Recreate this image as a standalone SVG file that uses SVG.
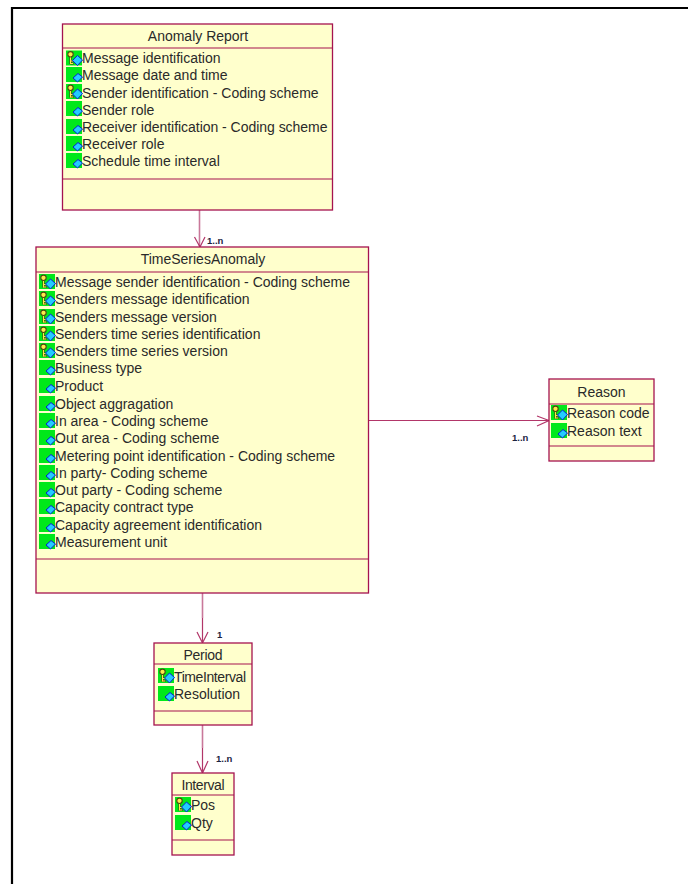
<svg xmlns="http://www.w3.org/2000/svg" width="688" height="884" viewBox="0 0 688 884">
<style>
.box{fill:#ffffcc;stroke:#a5134f;stroke-width:1.3}
.sep{stroke:#a5134f;stroke-width:1.2;fill:none}
.t{font-family:"Liberation Sans",Arial,sans-serif;font-size:14px;fill:#2a2a2a}
.c{text-anchor:middle}
.m{font-family:"Liberation Sans",Arial,sans-serif;font-size:9.500px;font-weight:bold;fill:#1a2340}
.lnk{stroke:#a5134f;stroke-width:1.200;fill:none;opacity:.85}
.pale{stroke:#c9789a;stroke-width:1.600;fill:none}
</style>
<defs>
<g id="attr">
<rect x="0" y="0" width="16" height="15" fill="#00e81a"/>
<path d="M7 11 L12 6.500 L16.500 10 L11.500 15 Z" fill="#22ccff" stroke="#0a1fd0" stroke-width="1"/>
</g>
<g id="key">
<rect x="0" y="0" width="16" height="15" fill="#00e81a"/>
<path d="M4.500 6 L4.500 13.500 M4.500 10.500 H7.500 M4.500 13 H7.500" stroke="#4a4a10" stroke-width="2.200" fill="none"/>
<path d="M4.500 6 L4.500 13.500 M4.500 10.500 H7 M4.500 13 H7" stroke="#ffe94a" stroke-width="1" fill="none"/>
<circle cx="4.500" cy="3.800" r="2.700" fill="#ffe94a" stroke="#4a4a10" stroke-width="1.100"/>
<path d="M6.500 10 L11.500 5 L16.500 9.500 L11.500 15 Z" fill="#22ccff" stroke="#0a1fd0" stroke-width="1"/>
</g>
</defs>
<path d="M12 884 V8 H688" fill="none" stroke="#000" stroke-width="2.200"/>
<g id="connectors">
<path class="pale" d="M199.500 210 V246"/>
<path class="lnk" d="M194.500 237 L200 247 L205 237"/>
<text class="m" x="207" y="244">1..n</text>
<path class="lnk" d="M369 420.500 H549 M537 416 L549 420.500 L537 426"/>
<text class="m" x="512" y="441">1..n</text>
<path class="pale" d="M202.500 593 V618"/>
<path class="lnk" d="M202.500 618 V643 M197 632 L202.500 643 L208 632"/>
<text class="m" x="217" y="638">1</text>
<path class="pale" d="M202.500 725 V748"/>
<path class="lnk" d="M202.500 748 V773 M197 761 L202.500 773 L208 761"/>
<text class="m" x="216" y="762">1..n</text>
</g>
<g id="anomaly-report">
<rect class="box" x="62.500" y="24" width="270" height="186"/>
<path class="sep" d="M62.500 48 H332.500 M62.500 179 H332.500"/>
<text class="t c" x="198" y="41">Anomaly Report</text>
<use href="#key" x="66" y="50.500"/><text class="t" x="82" y="63">Message identification</text>
<use href="#attr" x="66" y="67"/><text class="t" x="82" y="80">Message date and time</text>
<use href="#key" x="66" y="84"/><text class="t" x="82" y="97.500">Sender identification - Coding scheme</text>
<use href="#attr" x="66" y="101"/><text class="t" x="82" y="114.500">Sender role</text>
<use href="#attr" x="66" y="119"/><text class="t" x="82" y="132" textLength="245.500">Receiver identification - Coding scheme</text>
<use href="#attr" x="66" y="136"/><text class="t" x="82" y="149">Receiver role</text>
<use href="#attr" x="66" y="153"/><text class="t" x="82" y="166">Schedule time interval</text>
</g>
<g id="time-series-anomaly">
<rect class="box" x="36" y="247" width="332.500" height="346"/>
<path class="sep" d="M36 272 H368.500 M36 559 H368.500"/>
<text class="t c" x="203" y="264">TimeSeriesAnomaly</text>
<use href="#key" x="39" y="274"/><text class="t" x="55" y="286.500">Message sender identification - Coding scheme</text>
<use href="#key" x="39" y="291"/><text class="t" x="55" y="303.500">Senders message identification</text>
<use href="#key" x="39" y="309"/><text class="t" x="55" y="321.500">Senders message version</text>
<use href="#key" x="39" y="326"/><text class="t" x="55" y="338.500">Senders time series identification</text>
<use href="#key" x="39" y="343"/><text class="t" x="55" y="355.500">Senders time series version</text>
<use href="#attr" x="39" y="360"/><text class="t" x="55" y="372.500">Business type</text>
<use href="#attr" x="39" y="378"/><text class="t" x="55" y="390.500">Product</text>
<use href="#attr" x="39" y="396"/><text class="t" x="55" y="408.500">Object aggragation</text>
<use href="#attr" x="39" y="413"/><text class="t" x="55" y="425.500">In area - Coding scheme</text>
<use href="#attr" x="39" y="430"/><text class="t" x="55" y="442.500">Out area - Coding scheme</text>
<use href="#attr" x="39" y="448"/><text class="t" x="55" y="460.500">Metering point identification - Coding scheme</text>
<use href="#attr" x="39" y="465"/><text class="t" x="55" y="477.500">In party- Coding scheme</text>
<use href="#attr" x="39" y="482"/><text class="t" x="55" y="494.500">Out party - Coding scheme</text>
<use href="#attr" x="39" y="499"/><text class="t" x="55" y="511.500">Capacity contract type</text>
<use href="#attr" x="39" y="517"/><text class="t" x="55" y="529.500">Capacity agreement identification</text>
<use href="#attr" x="39" y="534"/><text class="t" x="55" y="546.500">Measurement unit</text>
</g>
<g id="reason">
<rect class="box" x="549" y="379" width="105" height="82"/>
<path class="sep" d="M549 404 H654 M549 446 H654"/>
<text class="t c" x="601.500" y="397">Reason</text>
<use href="#key" x="551" y="405"/><text class="t" x="567" y="417.500">Reason code</text>
<use href="#attr" x="551" y="423"/><text class="t" x="567" y="435.500">Reason text</text>
</g>
<g id="period">
<rect class="box" x="154" y="643" width="98" height="82"/>
<path class="sep" d="M154 664 H252 M154 711 H252"/>
<text class="t c" x="203" y="659.500" textLength="39">Period</text>
<use href="#key" x="158" y="668"/><text class="t" x="174" y="681.500" textLength="72">TimeInterval</text>
<use href="#attr" x="158" y="686"/><text class="t" x="174" y="698.500">Resolution</text>
</g>
<g id="interval">
<rect class="box" x="172" y="773" width="62" height="82"/>
<path class="sep" d="M172 795 H234 M172 840 H234"/>
<text class="t c" x="203" y="789.500" textLength="43">Interval</text>
<use href="#key" x="175" y="797"/><text class="t" x="191" y="809.500">Pos</text>
<use href="#attr" x="175" y="815"/><text class="t" x="191" y="827.500">Qty</text>
</g>
</svg>
